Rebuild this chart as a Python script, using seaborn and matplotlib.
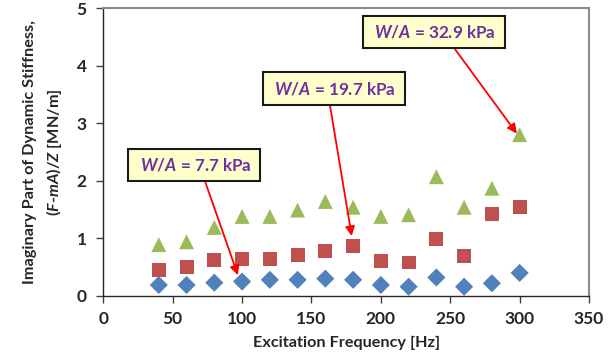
import matplotlib
matplotlib.use("Agg")
import matplotlib.pyplot as plt
import seaborn as sns
import pandas as pd

# Excitation frequencies [Hz]
freq = [40, 60, 80, 100, 120, 140, 160, 180, 200, 220, 240, 260, 280, 300]

# Imaginary part of dynamic stiffness [MN/m] for three bearing pressures
im_7_7 = [0.19, 0.19, 0.23, 0.25, 0.28, 0.28, 0.30, 0.28, 0.19, 0.16, 0.32, 0.16, 0.22, 0.40]
im_19_7 = [0.45, 0.50, 0.62, 0.64, 0.64, 0.71, 0.78, 0.86, 0.61, 0.58, 0.99, 0.69, 1.42, 1.54]
im_32_9 = [0.89, 0.94, 1.19, 1.38, 1.38, 1.49, 1.64, 1.54, 1.38, 1.41, 2.07, 1.54, 1.87, 2.80]

series_labels = ["7.7", "19.7", "32.9"]
series_colors = ["#4F81BD", "#C0504D", "#9BBB59"]
series_markers = ["D", "s", "^"]
series_sizes = [85, 100, 115]

x_ticks = [0, 50, 100, 150, 200, 250, 300, 350]
y_ticks = [0, 1, 2, 3, 4, 5]

sns.set_theme(style="white")
plt.rcParams["font.family"] = ["Lato", "DejaVu Sans"]
plt.rcParams["font.weight"] = "bold"
plt.rcParams["mathtext.fontset"] = "custom"
plt.rcParams["mathtext.it"] = "Lato:italic:bold"
plt.rcParams["mathtext.rm"] = "Lato:bold"

frames = []
for lab, vals in zip(series_labels, [im_7_7, im_19_7, im_32_9]):
    frames.append(pd.DataFrame({"freq": freq, "im": vals, "wa": lab}))
df = pd.concat(frames, ignore_index=True)

fig = plt.figure(figsize=(6.16, 3.64), dpi=100)
ax = fig.add_axes([0.1677, 0.187, 0.7885, 0.791])

for lab, col, mk, sz in zip(series_labels, series_colors, series_markers, series_sizes):
    sub = df[df["wa"] == lab]
    sns.scatterplot(data=sub, x="freq", y="im", ax=ax, color=col, marker=mk,
                    s=sz, edgecolor="none", legend=False, zorder=3)

ax.set_xlim(0, 350)
ax.set_ylim(0, 5)
ax.set_xticks(x_ticks)
ax.set_yticks(y_ticks)
ax.tick_params(axis="both", which="major", direction="out", length=5, width=1,
               color="#404040", labelsize=12.5, bottom=True, left=True)
ax.tick_params(axis="x", pad=6)
ax.tick_params(axis="y", pad=7)
for lbl in ax.get_xticklabels() + ax.get_yticklabels():
    lbl.set_fontweight("bold")

ax.set_xlabel("Excitation Frequency [Hz]", fontsize=11.7, fontweight="bold", labelpad=6)
ax.set_ylabel("Imaginary Part of Dynamic Stiffness,\n($\\mathit{F}$-$\\mathit{mA}$)/$\\mathit{Z}$ [MN/m]",
              fontsize=11.7, fontweight="bold", labelpad=9, linespacing=1.5)

for side in ["left", "bottom"]:
    ax.spines[side].set_color("#262626")
    ax.spines[side].set_linewidth(1.0)
for side in ["top", "right"]:
    ax.spines[side].set_color("#8C8C8C")
    ax.spines[side].set_linewidth(1.5)

# Callouts naming the bearing pressure of each series
callouts = [
    ("7.7", (97, 0.36), (65.5, 2.27), 0.57),
    ("19.7", (179, 1.04), (166, 3.60), 0.46),
    ("32.9", (298, 2.82), (238, 4.58), 0.62),
]
for lab, xy, xytext, rx in callouts:
    ax.annotate(" $\\mathit{W/A}$ = " + lab + " kPa ", xy=xy, xytext=xytext,
                textcoords="data", ha="center", va="center",
                fontsize=12.3, fontweight="bold", color="#7030A0",
                bbox=dict(boxstyle="square,pad=0.45", fc="#FFFFCC", ec="#1A1A1A", lw=1.5),
                arrowprops=dict(arrowstyle="-|>", color="#FF0000", lw=1.3,
                                mutation_scale=14, relpos=(rx, 0.0),
                                shrinkA=0, shrinkB=0),
                zorder=5)

fig.savefig("out.png", dpi=100, facecolor="white")
